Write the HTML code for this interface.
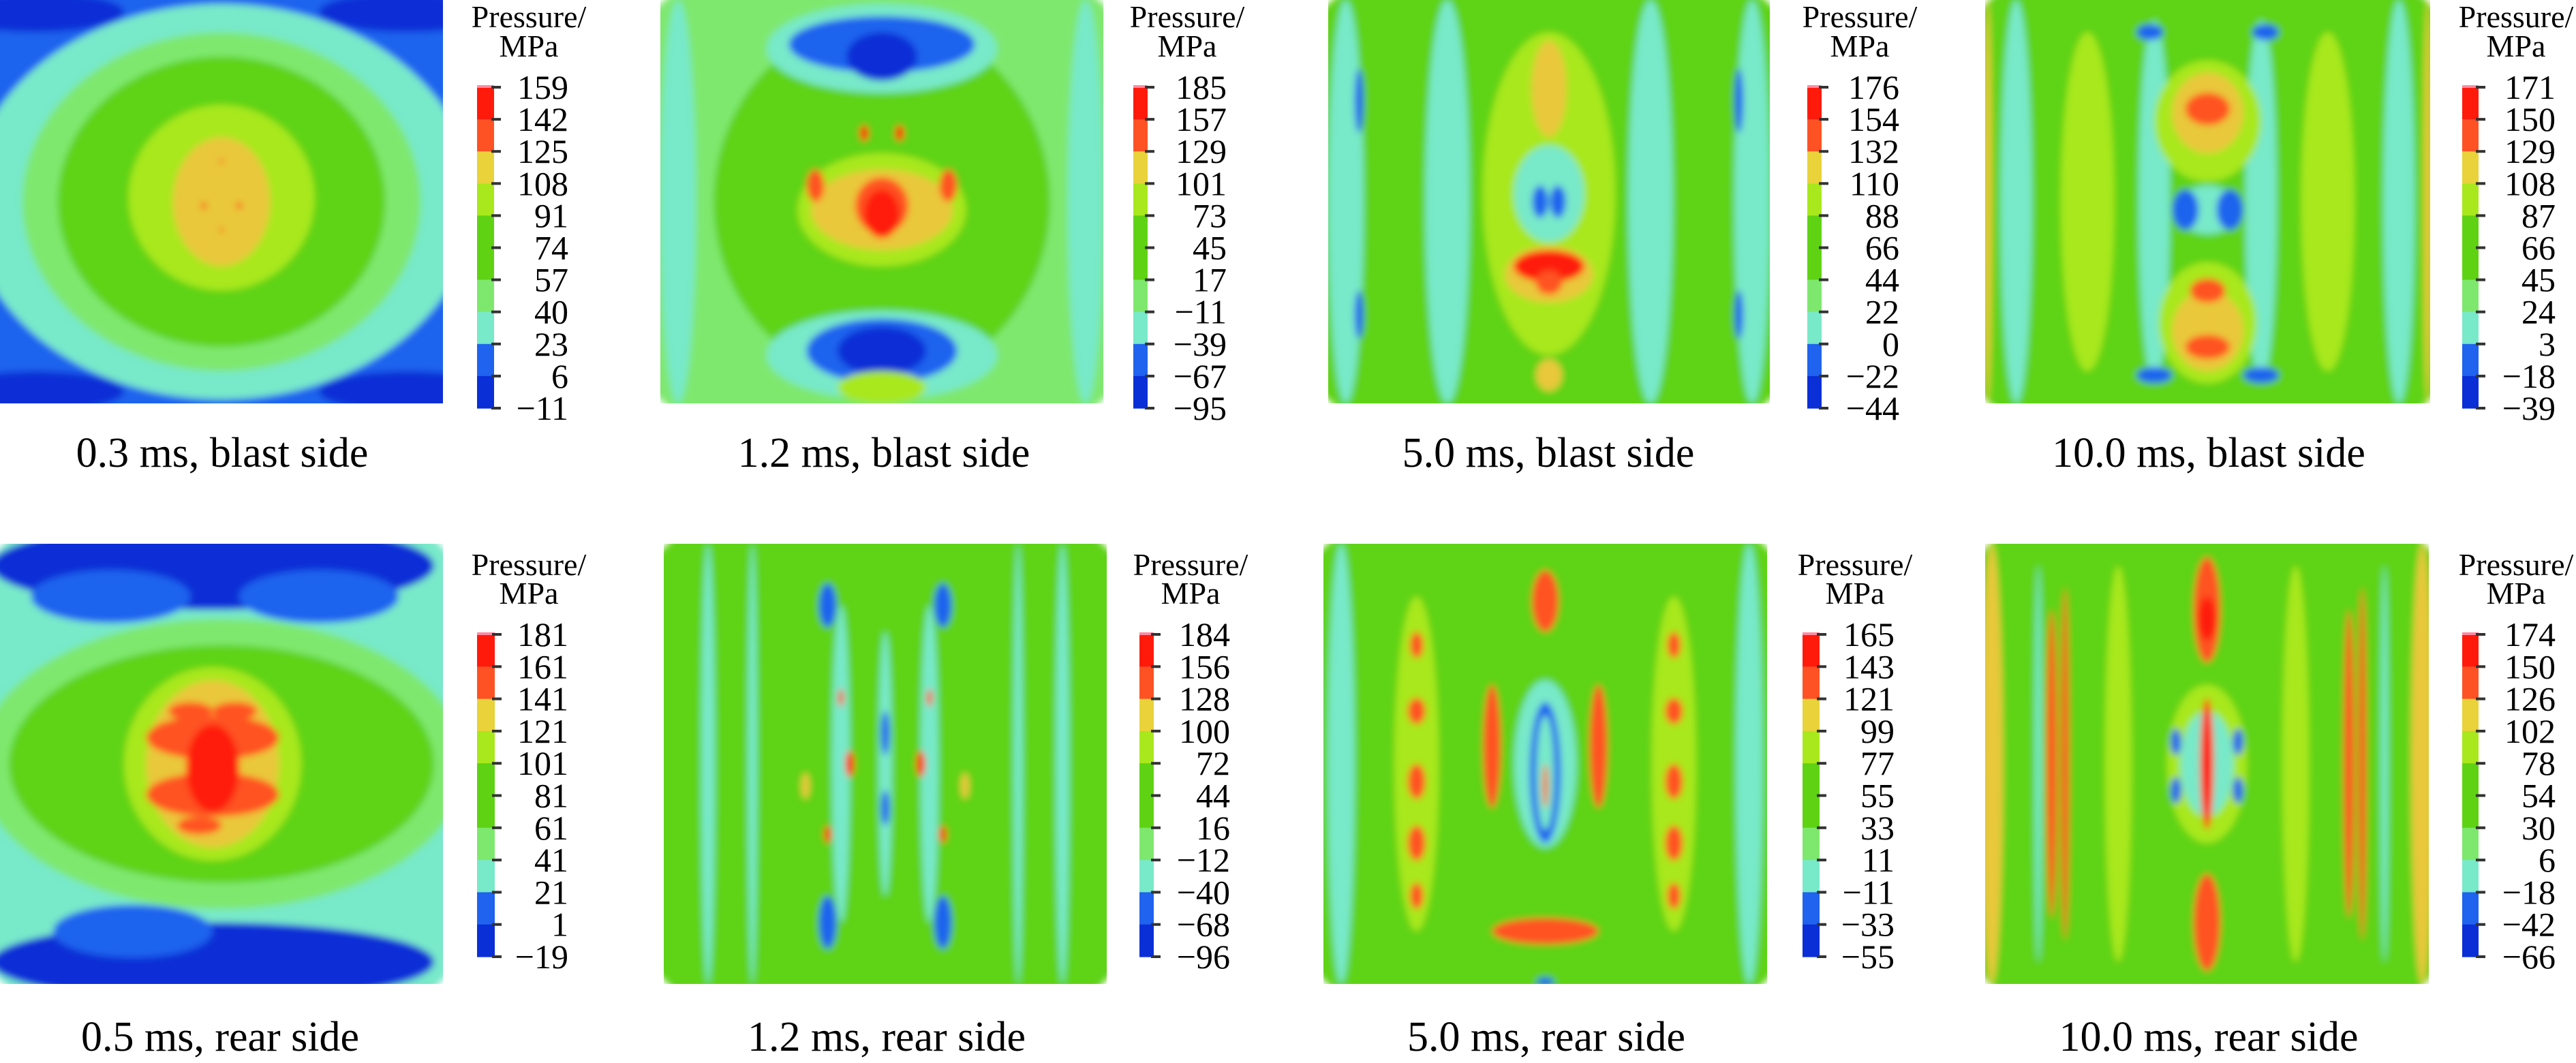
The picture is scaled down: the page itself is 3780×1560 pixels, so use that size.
<!DOCTYPE html>
<html><head><meta charset="utf-8"><style>
html,body{margin:0;padding:0;background:#fff;}
svg{display:block;font-family:"Liberation Serif",serif;}
</style></head><body>
<svg id="fig" width="3780" height="1560" viewBox="0 0 3780 1560" xmlns="http://www.w3.org/2000/svg">
<defs><filter id="soft" x="-5%" y="-5%" width="110%" height="110%"><feGaussianBlur stdDeviation="5"/></filter></defs>
</svg>
<script>
// ---- data ----
const captions = ["0.3 ms, blast side","1.2 ms, blast side","5.0 ms, blast side","10.0 ms, blast side",
                  "0.5 ms, rear side","1.2 ms, rear side","5.0 ms, rear side","10.0 ms, rear side"];
const ticks1 = [159,142,125,108,91,74,57,40,23,6,-11];
const ticks2 = [185,157,129,101,73,45,17,-11,-39,-67,-95];
const ticks3 = [176,154,132,110,88,66,44,22,0,-22,-44];
const ticks4 = [171,150,129,108,87,66,45,24,3,-18,-39];
const ticks5 = [181,161,141,121,101,81,61,41,21,1,-19];
const ticks6 = [184,156,128,100,72,44,16,-12,-40,-68,-96];
const ticks7 = [165,143,121,99,77,55,33,11,-11,-33,-55];
const ticks8 = [174,150,126,102,78,54,30,6,-18,-42,-66];
const tickSets = [ticks1,ticks2,ticks3,ticks4,ticks5,ticks6,ticks7,ticks8];
const bandColors = ["#ff1a0c","#ff5224","#e9d23a","#a8e81c","#5fd313","#5fd313","#7ee86e","#78e9c9","#1f63ee","#0a2fd6"];
const levelColors = ["#0a2fd6","#1f63ee","#78e9c9","#7ee86e","#5fd313","#62d418","#a8e81c","#e9c83a","#ff5224","#ff1a0c"];
// field features per panel: [level, cx, cy, rx, ry] in fractions of the plot
const field1 = [[1,.5,.5,.7,.7],[0,.08,.03,.2,.05],[0,.92,.03,.2,.05],[0,.08,.97,.2,.05],[0,.92,.97,.2,.05],
  [2,.5,.5,.57,.49],[3,.5,.5,.45,.42],[4,.5,.5,.37,.36],[6,.5,.49,.21,.23],[7,.5,.5,.11,.16],
  [9,.46,.51,.006,.008],[9,.54,.51,.006,.008],[9,.5,.4,.004,.006],[9,.5,.57,.004,.006]];
const field2 = [[3,.5,.5,.7,.7],[4,.5,.5,.38,.45],[2,.04,.5,.04,.5],[2,.96,.5,.04,.5],
  [2,.5,.12,.26,.11],[2,.5,.88,.26,.11],[1,.5,.11,.21,.07],[0,.5,.14,.08,.06],[1,.5,.87,.17,.08],[0,.5,.87,.1,.06],
  [6,.5,.52,.19,.14],[7,.5,.52,.16,.1],[8,.35,.46,.02,.04],[8,.65,.46,.02,.04],[8,.5,.51,.06,.07],[9,.5,.53,.04,.06],
  [9,.46,.33,.01,.02],[9,.54,.33,.01,.02],[6,.5,.96,.1,.04]];
const field3 = [[4,.5,.5,.7,.7],[2,.27,.5,.05,.5],[2,.73,.5,.05,.5],[2,.04,.5,.04,.5],[2,.96,.5,.04,.5],
  [1,.07,.25,.01,.08],[1,.93,.25,.01,.08],[1,.07,.78,.01,.06],[1,.93,.78,.01,.06],
  [6,.5,.48,.15,.4],[7,.5,.22,.04,.12],[2,.5,.48,.08,.12],[1,.48,.5,.018,.04],[1,.52,.5,.018,.04],
  [7,.5,.68,.1,.07],[9,.5,.66,.08,.04],[8,.5,.7,.03,.03],[7,.5,.93,.03,.04]];
const field4 = [[4,.5,.5,.7,.7],[2,.07,.5,.035,.5],[2,.93,.5,.035,.5],[2,.38,.5,.035,.45],[2,.62,.5,.035,.45],
  [6,.23,.5,.06,.42],[6,.77,.5,.06,.42],[7,.005,.5,.01,.5],[7,.995,.5,.01,.5],
  [6,.5,.3,.12,.15],[7,.5,.28,.08,.1],[8,.5,.27,.05,.04],[2,.5,.52,.07,.06],[1,.45,.52,.03,.05],[1,.55,.52,.03,.05],
  [6,.5,.8,.11,.15],[7,.5,.82,.08,.1],[8,.5,.72,.04,.03],[8,.5,.86,.05,.03],
  [1,.38,.93,.04,.02],[1,.62,.93,.04,.02],[1,.37,.08,.03,.02],[1,.63,.08,.03,.02]];
const field5 = [[2,.5,.5,.7,.7],[0,.48,.05,.5,.1],[1,.25,.12,.18,.06],[1,.72,.12,.18,.06],[0,.48,.95,.5,.09],[1,.3,.88,.18,.06],
  [3,.5,.5,.55,.33],[4,.5,.5,.48,.27],[6,.48,.5,.2,.22],[7,.48,.5,.15,.19],[8,.48,.44,.15,.05],[8,.48,.57,.15,.05],
  [9,.48,.51,.06,.1],[8,.43,.38,.05,.02],[8,.53,.38,.05,.02],[8,.45,.64,.05,.02]];
const field6 = [[4,.5,.5,.7,.7],[2,.1,.5,.015,.5],[2,.2,.5,.01,.5],[2,.8,.5,.01,.5],[2,.9,.5,.015,.5],
  [2,.4,.5,.02,.36],[2,.6,.5,.02,.36],[2,.5,.5,.015,.3],[1,.37,.14,.02,.05],[1,.63,.14,.02,.05],[1,.37,.86,.02,.06],[1,.63,.86,.02,.06],
  [1,.5,.43,.01,.05],[1,.5,.6,.01,.04],[9,.42,.5,.01,.03],[9,.58,.5,.01,.03],[9,.37,.66,.008,.02],[9,.63,.66,.008,.02],
  [9,.4,.35,.006,.02],[9,.6,.35,.006,.02],[7,.32,.55,.01,.03],[7,.68,.55,.01,.03]];
const field7 = [[4,.5,.5,.7,.7],[2,.04,.5,.03,.5],[2,.96,.5,.03,.5],[6,.21,.5,.05,.38],[6,.79,.5,.05,.38],
  [8,.21,.23,.015,.03],[8,.21,.38,.02,.03],[8,.21,.54,.02,.04],[8,.21,.68,.02,.04],[8,.21,.8,.015,.03],
  [8,.79,.23,.015,.03],[8,.79,.38,.02,.03],[8,.79,.54,.02,.04],[8,.79,.68,.02,.04],[8,.79,.8,.015,.03],
  [8,.38,.46,.02,.14],[8,.62,.46,.02,.14],[2,.5,.5,.07,.19],[1,.5,.52,.035,.16],[2,.5,.52,.02,.13],[8,.5,.55,.006,.05],
  [8,.5,.13,.03,.07],[8,.5,.88,.12,.03],[1,.5,.995,.02,.01]];
const field8 = [[4,.5,.5,.7,.7],[7,.015,.5,.025,.5],[7,.985,.5,.025,.5],[6,.3,.5,.03,.45],[6,.7,.5,.03,.45],
  [8,.15,.5,.012,.35],[8,.18,.5,.009,.4],[8,.82,.5,.012,.35],[8,.85,.5,.009,.4],[2,.12,.5,.008,.45],[2,.9,.5,.008,.45],
  [6,.5,.5,.09,.18],[2,.5,.5,.06,.12],[1,.43,.45,.012,.03],[1,.57,.45,.012,.03],[1,.43,.56,.012,.03],[1,.57,.56,.012,.03],
  [9,.5,.5,.015,.15],[8,.5,.15,.03,.12],[9,.5,.17,.02,.05],[8,.5,.86,.03,.11]];
const fields = [field1,field2,field3,field4,field5,field6,field7,field8];

// ---- layout ----
const rows = [{py:0,ph:592,cy:128,ch:471,t1:40,t2:83,cap:685},{py:798,ph:646,cy:931,ch:473,t1:844,t2:886,cap:1542}];
const cols = [[0,650,700,725,834,326],[969,650,1663,1684,1800,1297],[1949,648,2652,2673,2787,2272],[2913,653,3613,3637,3750,3241],
              [0,650,700,726,834,323],[974,650,1672,1693,1805,1301],[1942,651,2645,2670,2780,2269],[2913,651,3613,3637,3750,3241]];
const NS="http://www.w3.org/2000/svg";
const svg=document.getElementById('fig');
function mk(tag,attrs,parent){const e=document.createElementNS(NS,tag);for(const k in attrs)e.setAttribute(k,attrs[k]);(parent||svg).appendChild(e);return e;}
function fmt(v){return v<0?"\u2212"+Math.abs(v):String(v);}

for(let p=0;p<8;p++){
  const r=rows[p<4?0:1], c=cols[p];
  const px=c[0], pw=c[1], py=r.py, ph=r.ph;
  const sx=f=>px+f*pw, sy=f=>py+f*ph;
  const g=mk('g',{});
  
  
  const clipId='clip'+p;
  const cp=mk('clipPath',{id:clipId},g); mk('rect',{x:px,y:py,width:pw,height:ph},cp);
  const plot=mk('g',{'clip-path':'url(#'+clipId+')'},g);
  
  
  const inner=mk('g',{filter:'url(#soft)'},plot);
  fields[p].forEach(b=>{
    const el=mk('ellipse',{cx:sx(b[1]),cy:sy(b[2]),rx:b[3]*pw,ry:b[4]*ph,fill:levelColors[b[0]]},inner);
    
    
  });
  const ticks=tickSets[p], n=ticks.length-1, bh=r.ch/n;
  const cb=mk('g',{},g);
  
  
  for(let i=0;i<n;i++){
    const band=mk('rect',{x:c[2],y:r.cy+i*bh,width:c[3]-c[2],height:bh+0.6,fill:bandColors[i]},cb);
    
    
  }
  mk('rect',{x:c[2],y:r.cy-3,width:c[3]-c[2],height:4,fill:'#ff8aa0'},cb);
  ticks.forEach((t,i)=>{
    const y=r.cy+i*bh;
    mk('line',{x1:c[3]-4,x2:c[3]+10,y1:y,y2:y,stroke:'#333','stroke-width':4},cb);
    const tx=mk('text',{x:c[4],y:y+17,'font-size':50,'text-anchor':'end',fill:'#000'},cb);
    tx.textContent=fmt(t);
    
    
  });
  const tt=mk('text',{x:c[4]-58,y:r.t1,'font-size':46,'text-anchor':'middle'},g);
  tt.textContent='Pressure/';
  
  
  const tu=mk('text',{x:c[4]-58,y:r.t2,'font-size':46,'text-anchor':'middle'},g);
  tu.textContent='MPa';
  
  
  const cap=mk('text',{x:c[5],y:r.cap,'font-size':62,'text-anchor':'middle'},g);
  cap.textContent=captions[p];
  
  
}
</script>
</body></html>
